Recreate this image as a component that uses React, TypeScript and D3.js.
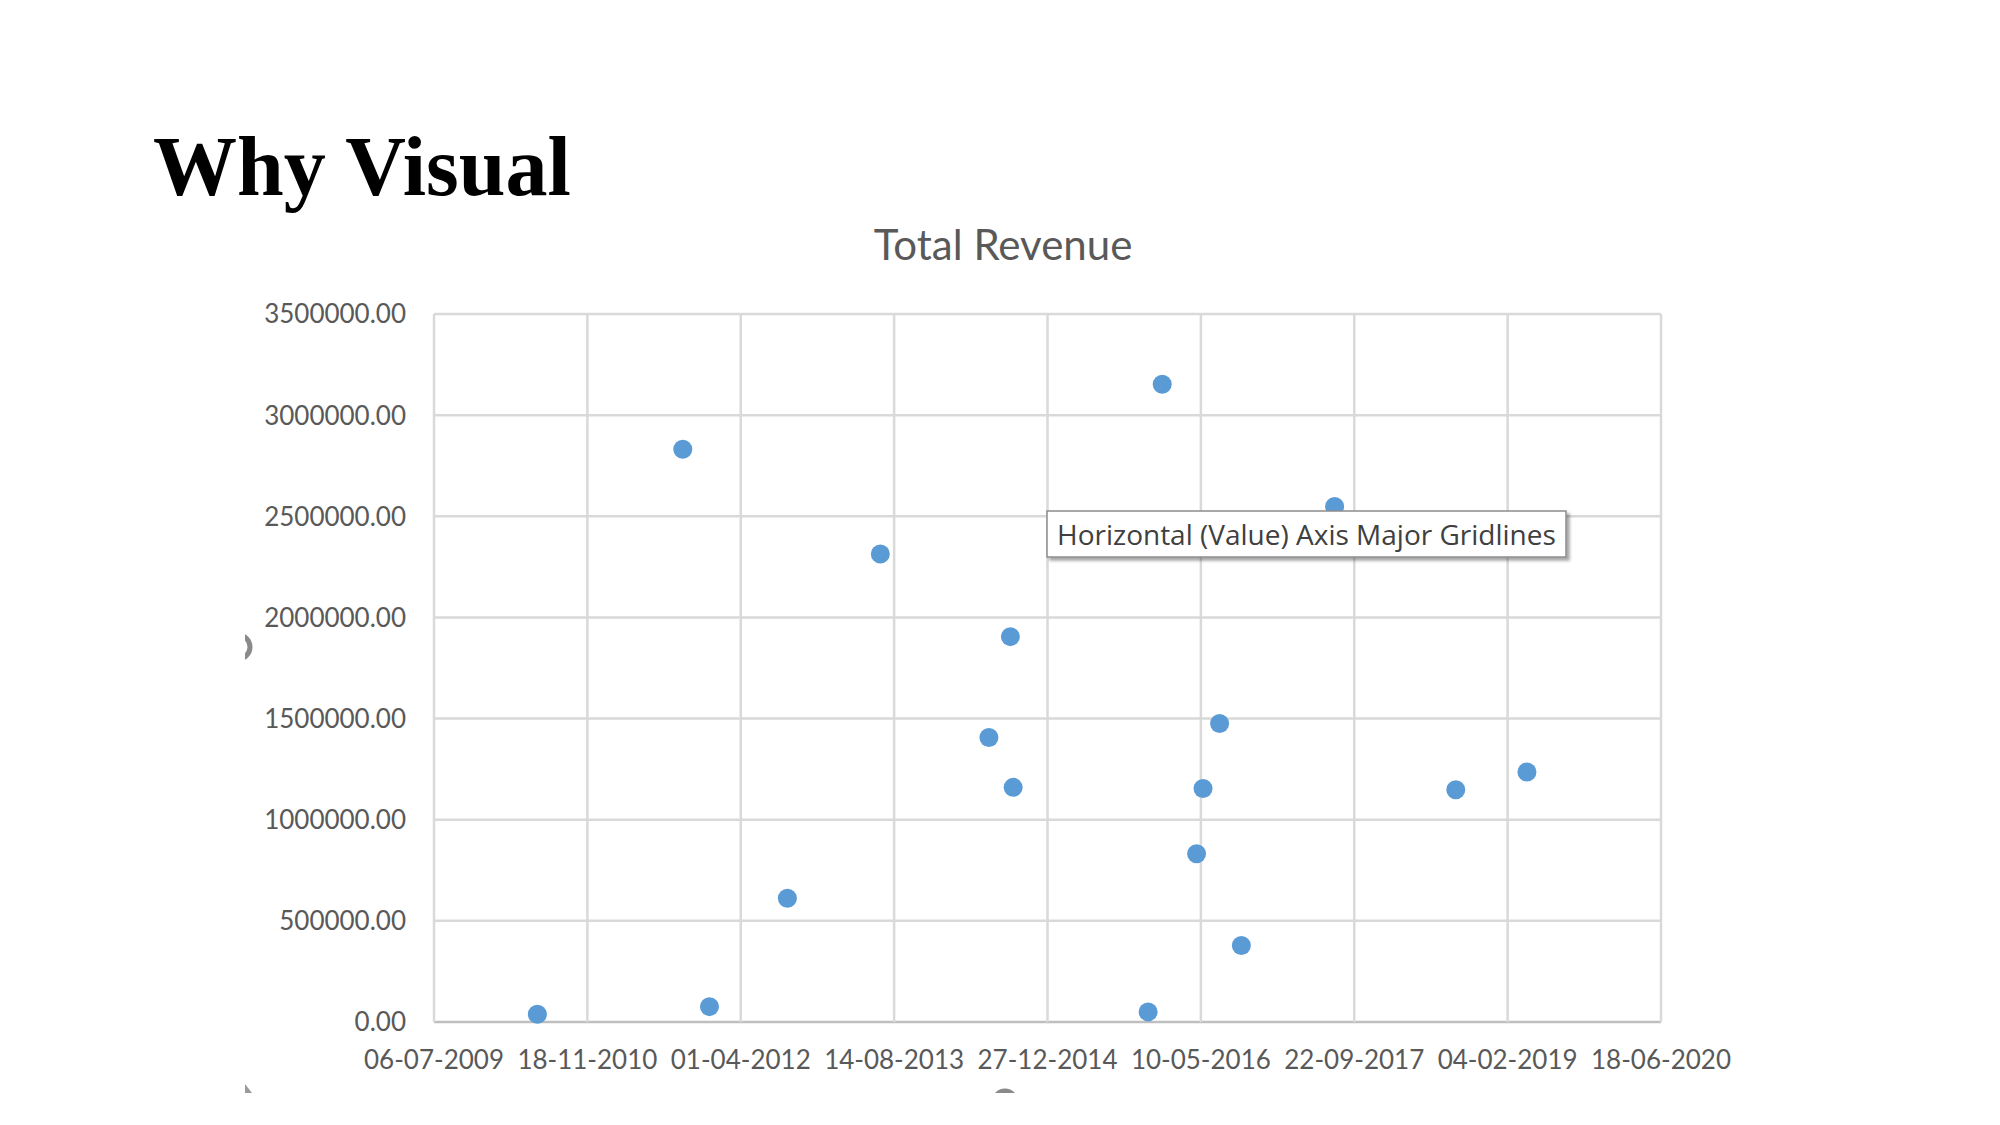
import React from "react";
import * as d3 from "d3";

const pageTitle = "Why Visual";
const chartTitle = "Total Revenue";
const tooltipText = "Horizontal (Value) Axis Major Gridlines";

// Date axis ticks (every 500 days, Excel style)
const xTickLabels = [
  "06-07-2009", "18-11-2010", "01-04-2012", "14-08-2013", "27-12-2014",
  "10-05-2016", "22-09-2017", "04-02-2019", "18-06-2020",
];
const yTickValues = [0, 500000, 1000000, 1500000, 2000000, 2500000, 3000000, 3500000];

// Scatter data: order date vs. total revenue
const orderDates = [
  "08-06-2010", "25-09-2011", "21-12-2011", "31-08-2012", "30-06-2013",
  "19-06-2014", "28-08-2014", "06-09-2014", "20-11-2015", "05-01-2016",
  "26-04-2016", "17-05-2016", "10-07-2016", "19-09-2016", "20-07-2017",
  "19-08-2018", "08-04-2019",
];
const totalRevenue = [
  38000, 2831000, 76000, 612000, 2314000,
  1406000, 1905000, 1160000, 50000, 3153000,
  832000, 1154000, 1476000, 378000, 2548000,
  1148000, 1236000,
];

const W = 2000;
const H = 1125;

export default function App() {
  const parse = d3.utcParse("%d-%m-%Y");
  const ticks = xTickLabels.map((s) => parse(s) as Date);
  const x = d3.scaleUtc().domain([ticks[0], ticks[ticks.length - 1]]).range([434, 1661]);
  const y = d3.scaleLinear().domain([0, 3500000]).range([1022, 314]);
  const fmt = d3.format(".2f");
  const points = orderDates.map((d, i) => ({ date: parse(d) as Date, v: totalRevenue[i] }));
  const font = "Lato, 'Open Sans', sans-serif";
  const grid = "#d9d9d9";

  return (
    <svg
      width={W}
      height={H}
      style={{ position: "absolute", left: 0, top: 0, background: "#fff" }}
      xmlns="http://www.w3.org/2000/svg"
    >
      <defs>
        <clipPath id="shot">
          <rect x={245} y={0} width={W} height={1093} />
        </clipPath>
        <filter id="shadow" x="-5%" y="-20%" width="115%" height="160%">
          <feDropShadow dx="3" dy="3" stdDeviation="1.5" floodColor="#000" floodOpacity="0.35" />
        </filter>
      </defs>
      <rect width={W} height={H} fill="#fff" />

      <text
        x={153}
        y={195}
        fontFamily="'Liberation Serif', 'Times New Roman', serif"
        fontWeight="bold"
        fontSize={84}
        fill="#000"
      >
        {pageTitle}
      </text>

      <text x={1003} y={260} textAnchor="middle" fontFamily={font} fontSize={42} fill="#595959">
        {chartTitle}
      </text>

      {/* horizontal gridlines */}
      {yTickValues.map((v) => (
        <line key={"h" + v} x1={434} x2={1661} y1={y(v)} y2={y(v)} stroke={v === 0 ? "#bfbfbf" : grid} strokeWidth={2.5} />
      ))}
      {/* vertical gridlines */}
      {ticks.map((t, i) => (
        <line key={"v" + i} x1={x(t)} x2={x(t)} y1={314} y2={1022} stroke={grid} strokeWidth={2.5} />
      ))}

      {/* y labels */}
      {yTickValues.map((v) => (
        <text
          key={"yl" + v}
          x={406}
          y={y(v)}
          dy="0.36em"
          textAnchor="end"
          fontFamily={font}
          fontSize={26}
          fill="#595959"
        >
          {fmt(v)}
        </text>
      ))}
      {/* x labels */}
      {ticks.map((t, i) => (
        <text
          key={"xl" + i}
          x={x(t)}
          y={1069}
          textAnchor="middle"
          fontFamily={font}
          fontSize={26}
          fill="#595959"
        >
          {xTickLabels[i]}
        </text>
      ))}

      {/* points */}
      {points.map((p, i) => (
        <circle key={"p" + i} cx={x(p.date)} cy={y(p.v)} r={9.5} fill="#5b9bd5" />
      ))}

      {/* tooltip */}
      <g filter="url(#shadow)">
        <rect x={1047} y={511} width={519} height={46} fill="#fff" stroke="#8c8c8c" strokeWidth={1.5} />
      </g>
      <text x={1057} y={545} fontFamily="'Open Sans', sans-serif" fontSize={28} fill="#404040">
        {tooltipText}
      </text>

      {/* chart selection handles, clipped by screenshot edge */}
      <g clipPath="url(#shot)" fill="none" stroke="#8a8a8a" strokeWidth={5}>
        <circle cx={238} cy={647} r={12} />
        <circle cx={1005} cy={1102} r={11} />
        <path d="M245,1084 L252,1093 L245,1093 Z" fill="#9a9a9a" stroke="none" />
      </g>
    </svg>
  );
}
